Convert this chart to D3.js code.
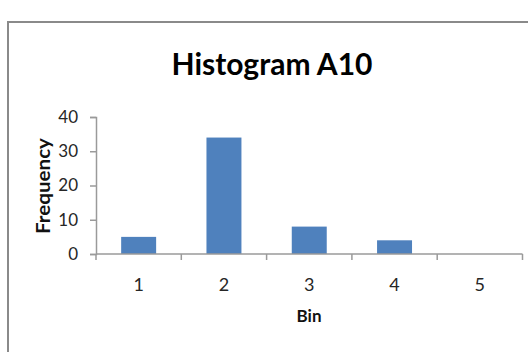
<!DOCTYPE html>
<html>
<head>
<meta charset="utf-8">
<script src="https://cdn.jsdelivr.net/npm/d3@7"></script>
<style>
  html, body { margin: 0; padding: 0; background: #fff; }
  svg { display: block; }
  text { font-family: Lato, "Open Sans", sans-serif; }
</style>
</head>
<body>
<svg id="chart" width="528" height="352"></svg>
<script>
// Histogram data: bin labels and counts per bin
const bins = ["1", "2", "3", "4", "5"];
const frequency = [5, 34, 8, 4, 0];
const yTicks = [0, 10, 20, 30, 40];

const W = 528, H = 352;
const margin = { left: 96, right: 5.5, top: 117, bottom: 98 };

const svg = d3.select("#chart");

// outer chart frame
svg.append("rect")
  .attr("x", 8).attr("y", 22)
  .attr("width", W).attr("height", H)
  .attr("fill", "#fff")
  .attr("stroke", "#8a8a8a")
  .attr("stroke-width", 2);

const x = d3.scaleBand()
  .domain(bins)
  .range([margin.left, W - margin.right])
  .paddingInner(0.59)
  .paddingOuter(0.295);

const y = d3.scaleLinear()
  .domain([0, 40])
  .range([H - margin.bottom, margin.top]);

// bars
svg.append("g")
  .selectAll("rect")
  .data(bins.map((b, i) => ({ bin: b, value: frequency[i] })))
  .join("rect")
  .attr("x", d => x(d.bin))
  .attr("y", d => y(d.value))
  .attr("width", x.bandwidth())
  .attr("height", d => y(0) - y(d.value))
  .attr("fill", "#4f81bd");

// y axis
const yAxis = svg.append("g")
  .attr("transform", `translate(${margin.left},0)`)
  .call(d3.axisLeft(y).tickValues(yTicks).tickSize(6).tickPadding(12));

// x axis with ticks at band boundaries
const xAxisG = svg.append("g")
  .attr("transform", `translate(0,${y(0)})`);
xAxisG.append("line")
  .attr("x1", margin.left).attr("x2", W - margin.right)
  .attr("stroke", "#9a9a9a").attr("stroke-width", 1.5);
const bandEdge = i => margin.left + i * (W - margin.right - margin.left) / bins.length;
xAxisG.selectAll("line.tk")
  .data(d3.range(bins.length + 1))
  .join("line")
  .attr("class", "tk")
  .attr("x1", bandEdge)
  .attr("x2", bandEdge)
  .attr("y1", 0).attr("y2", 6)
  .attr("stroke", "#9a9a9a").attr("stroke-width", 1.5);
xAxisG.selectAll("text")
  .data(bins)
  .join("text")
  .attr("x", d => x(d) + x.bandwidth() / 2)
  .attr("y", 37)
  .attr("text-anchor", "middle")
  .attr("font-size", 18)
  .attr("fill", "#262626")
  .text(d => d);

yAxis.select(".domain").attr("stroke", "#9a9a9a").attr("stroke-width", 1.5);
yAxis.selectAll(".tick line").attr("stroke", "#9a9a9a").attr("stroke-width", 1.5);
yAxis.selectAll(".tick text")
  .attr("font-size", 17)
  .attr("font-family", "Lato, sans-serif")
  .attr("fill", "#262626");

// titles
svg.append("text")
  .attr("x", 272).attr("y", 75)
  .attr("text-anchor", "middle")
  .attr("font-size", 30)
  .attr("font-weight", "bold")
  .attr("fill", "#000")
  .text("Histogram A10");

svg.append("text")
  .attr("x", 309).attr("y", 322)
  .attr("text-anchor", "middle")
  .attr("font-size", 17)
  .attr("font-weight", "bold")
  .attr("fill", "#111")
  .text("Bin");

svg.append("text")
  .attr("transform", "translate(50,186) rotate(-90)")
  .attr("text-anchor", "middle")
  .attr("font-size", 18)
  .attr("font-weight", "bold")
  .attr("fill", "#111")
  .attr("textLength", 96)
  .attr("lengthAdjust", "spacingAndGlyphs")
  .text("Frequency");
</script>
</body>
</html>
